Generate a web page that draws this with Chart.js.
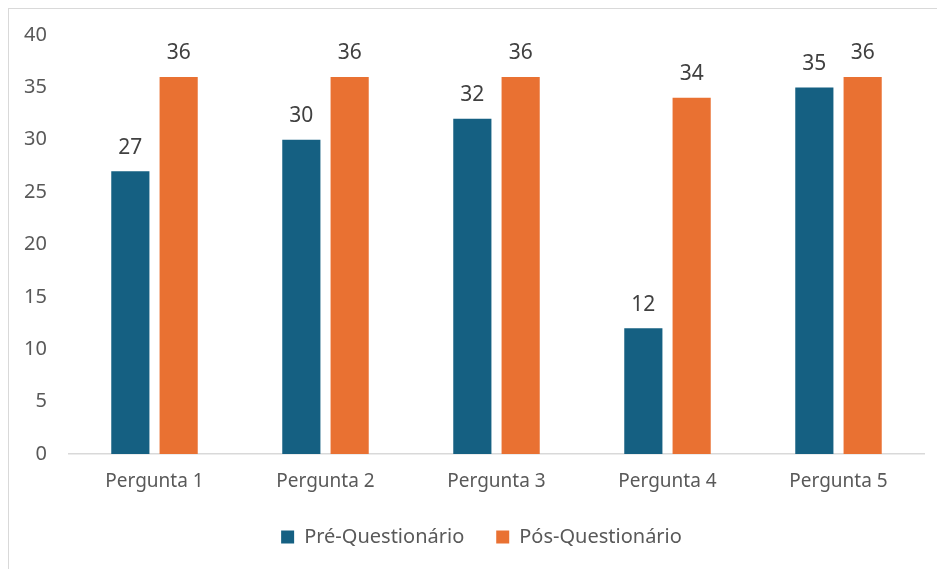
<!DOCTYPE html>
<html>
<head>
<meta charset="utf-8">
<script src="https://cdn.jsdelivr.net/npm/chart.js@4/dist/chart.umd.min.js"></script>
<style>
  html, body { margin: 0; padding: 0; background: #fff; }
  #frame {
    position: absolute; left: 8px; top: 8px;
    width: 929px; height: 561px;
    border-left: 1px solid #d9d9d9; border-top: 1px solid #d9d9d9;
    box-sizing: border-box;
  }
  #wrap { position: relative; width: 928px; height: 560px; }
</style>
</head>
<body>
<div id="frame"><div id="wrap"><canvas id="perguntasChart"></canvas></div></div>
<script>
// Dados
var categorias = ['Pergunta 1', 'Pergunta 2', 'Pergunta 3', 'Pergunta 4', 'Pergunta 5'];
var preQuestionario = [27, 30, 32, 12, 35];
var posQuestionario = [36, 36, 36, 34, 36];
var ticksY = [0, 5, 10, 15, 20, 25, 30, 35, 40];

var corTexto = '#595959';
var fonte = "'Noto Sans', sans-serif";

// Rótulos de valor por cima das barras
var rotulosValor = {
    id: 'rotulosValor',
    afterLayout: function(chart) {
        // legenda um pouco à direita, como no original
        chart.legend.left += 15;
        chart.legend.right += 15;
    },
    afterDatasetsDraw: function(chart) {
        var ctx = chart.ctx;
        ctx.save();
        ctx.font = "21px " + fonte;
        ctx.fillStyle = '#404040';
        ctx.textAlign = 'center';
        ctx.textBaseline = 'bottom';
        chart.data.datasets.forEach(function(ds, i) {
            chart.getDatasetMeta(i).data.forEach(function(bar, j) {
                ctx.fillText(ds.data[j], bar.x, bar.y - 13);
            });
        });
        ctx.restore();
    }
};

var ctx = document.getElementById('perguntasChart');
var myChart = new Chart(ctx, {
    type: 'bar',
    data: {
        labels: categorias,
        datasets: [{
            label: 'Pré-Questionário',
            data: preQuestionario,
            backgroundColor: '#156082',
            barPercentage: 0.79,
            categoryPercentage: 0.565
        }, {
            label: 'Pós-Questionário',
            data: posQuestionario,
            backgroundColor: '#E97132',
            barPercentage: 0.79,
            categoryPercentage: 0.565
        }]
    },
    options: {
        responsive: true,
        maintainAspectRatio: false,
        animation: false,
        layout: {
            padding: { top: 19, right: 13, bottom: 12, left: 0 }
        },
        scales: {
            x: {
                grid: { display: false },
                border: { display: true, color: '#d9d9d9', width: 1.5 },
                ticks: { color: corTexto, font: { family: fonte, size: 19 }, padding: 8 },
                afterFit: function(scale) { scale.height = 41; }
            },
            y: {
                min: 0,
                max: 40,
                afterBuildTicks: function(scale) {
                    scale.ticks = ticksY.map(function(v) { return { value: v }; });
                },
                grid: { display: false },
                border: { display: false },
                ticks: { color: corTexto, font: { family: fonte, size: 20 }, padding: 14 },
                afterFit: function(scale) { scale.width = 60; }
            }
        },
        plugins: {
            legend: {
                position: 'bottom',
                labels: {
                    color: corTexto,
                    font: { family: fonte, size: 20 },
                    boxWidth: 13,
                    boxHeight: 13,
                    padding: 32
                }
            },
            tooltip: { enabled: false }
        }
    },
    plugins: [rotulosValor]
});
</script>
</body>
</html>
